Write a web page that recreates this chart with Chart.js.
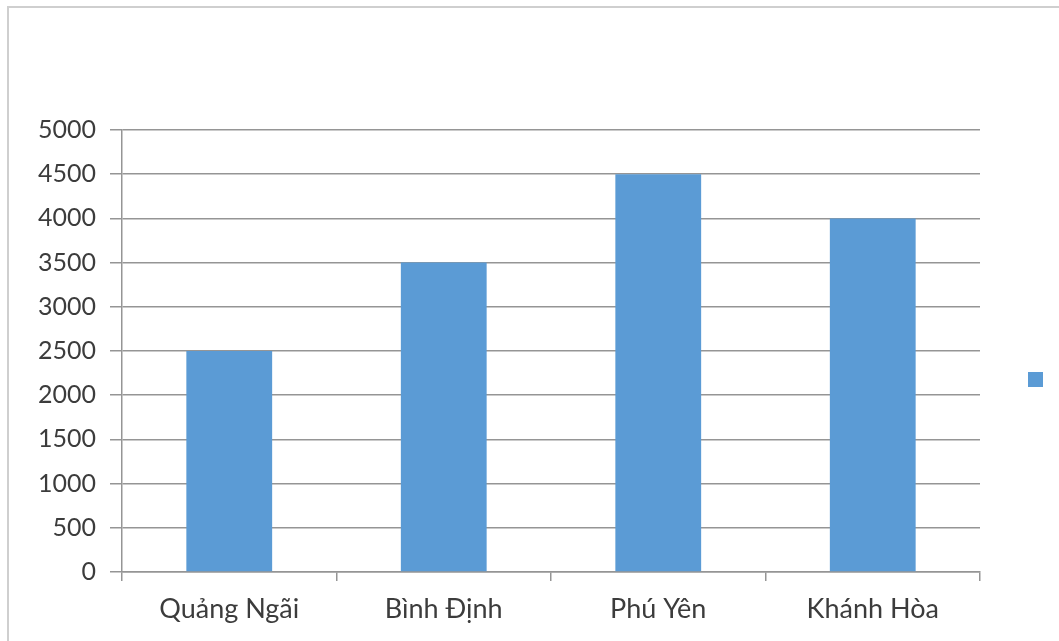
<!DOCTYPE html>
<html>
<head>
<meta charset="utf-8">
<script src="https://cdn.jsdelivr.net/npm/chart.js@4/dist/chart.umd.min.js"></script>
<style>
  html,body{margin:0;padding:0;background:#fff;overflow:hidden;}
  #frame{position:absolute;left:7px;top:6px;width:1100px;height:700px;border:2px solid #cfcfcf;box-sizing:border-box;}
  #wrap{position:absolute;left:0;top:0;width:1059px;height:641px;}
</style>
</head>
<body>
<div id="frame"></div>
<div id="wrap"><canvas id="c"></canvas></div>
<script>
const categories = ["Quảng Ngãi","Bình Định","Phú Yên","Khánh Hòa"];
const values = [2500, 3500, 4500, 4000];
const yTicks = [0,500,1000,1500,2000,2500,3000,3500,4000,4500,5000];

const FONT = "Lato";
const GRID = "#959595";
let chart = new Chart(document.getElementById("c"),{
  type:"bar",
  data:{
    labels:categories,
    datasets:[{
      label:"",
      data:values,
      backgroundColor:"#5b9bd5",
      barPercentage:0.4,
      categoryPercentage:1
    }]
  },
  options:{
    responsive:true,
    maintainAspectRatio:false,
    animation:false,
    layout:{padding:{top:130,bottom:12,left:0,right:0}},
    plugins:{
      tooltip:{enabled:false},
      legend:{
        position:"right",
        labels:{boxWidth:15,boxHeight:15,padding:48,font:{family:FONT,size:12}}
      }
    },
    scales:{
      y:{
        min:0,max:5000,
        afterFit:s=>{ s.width = 122; },
        afterBuildTicks:s=>{ s.ticks = yTicks.map(v=>({value:v})); },
        ticks:{color:"#3c3c3c",padding:14,font:{family:FONT,size:25},callback:v=>String(v)},
        grid:{color:GRID,lineWidth:1.5,tickLength:12},
        border:{color:GRID,width:1.5}
      },
      x:{
        afterFit:s=>{ s.height = 57; },
        ticks:{color:"#3c3c3c",padding:12,font:{family:FONT,size:27}},
        grid:{display:true,drawOnChartArea:false,offset:true,color:GRID,lineWidth:1.5,tickLength:9},
        border:{color:GRID,width:1.5}
      }
    }
  }
});
</script>
</body>
</html>
